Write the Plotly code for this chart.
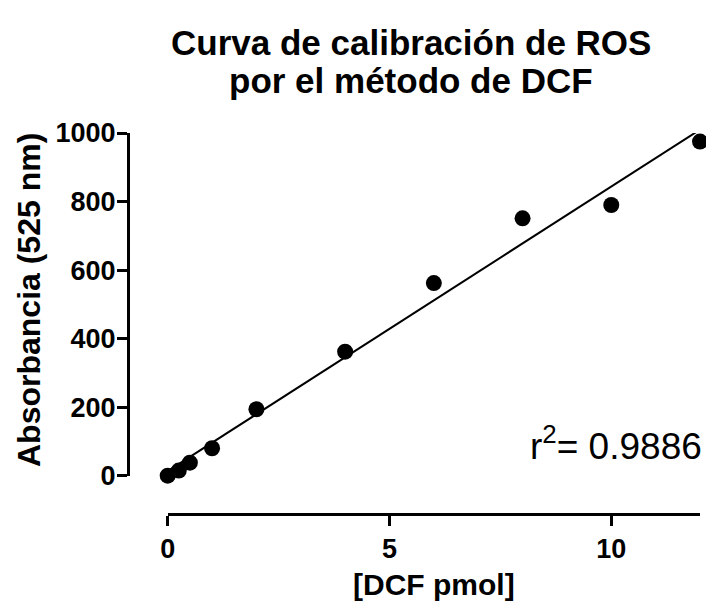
import numpy as np
import plotly.graph_objects as go

# Data
dcf_pmol = [0, 0.25, 0.5, 1, 2, 4, 6, 8, 10, 12]
absorbancia = [0, 15, 38, 80, 194, 362, 562, 751, 790, 975]
x_ticks = [0, 5, 10]
y_ticks = [0, 200, 400, 600, 800, 1000]
r2_label = "0.9886"
title_lines = ["Curva de calibración de ROS", "por el método de DCF"]

# Linear regression through the data
slope, intercept = np.polyfit(dcf_pmol, absorbancia, 1)
fit_x = [min(dcf_pmol), max(dcf_pmol)]
fit_y = [slope * v + intercept for v in fit_x]

W, H = 706, 603
ml, mr, mt, mb = 128, 6, 133, 89
pw = W - ml - mr
ph = H - mt - mb
x0_px = 167.7
y0_px = 475.7

font_family = "Liberation Sans, Arial, sans-serif"


def px_x(p):
    return (p - ml) / pw


def px_y(p):
    return (mt + ph - p) / ph


fig = go.Figure()
fig.add_trace(go.Scatter(
    x=fit_x, y=fit_y, mode="lines",
    line=dict(color="black", width=2),
    cliponaxis=False, showlegend=False, hoverinfo="skip",
))
fig.add_trace(go.Scatter(
    x=dcf_pmol, y=absorbancia, mode="markers",
    marker=dict(color="black", size=16, line=dict(width=0)),
    cliponaxis=False, showlegend=False,
))

axis_common = dict(
    showline=True, linecolor="black", linewidth=3,
    ticks="outside", ticklen=10, tickwidth=3, tickcolor="black",
    showgrid=False, zeroline=False,
    tickfont=dict(family=font_family, size=27, color="black", weight="bold"),
)

annotations = [
    dict(
        text=title_lines[0], xref="paper", yref="paper",
        x=px_x(411), y=px_y(43), xanchor="center", yanchor="middle",
        showarrow=False,
        font=dict(family=font_family, size=35, color="black", weight="bold"),
    ),
    dict(
        text=title_lines[1], xref="paper", yref="paper",
        x=px_x(411), y=px_y(81), xanchor="center", yanchor="middle",
        showarrow=False,
        font=dict(family=font_family, size=35, color="black", weight="bold"),
    ),
    dict(
        text="Absorbancia (525 nm)", textangle=-90,
        xref="paper", yref="paper",
        x=px_x(29), y=px_y(300),
        xanchor="center", yanchor="middle", showarrow=False,
        font=dict(family=font_family, size=32, color="black", weight="bold"),
    ),
    dict(
        text="[DCF pmol]",
        xref="paper", yref="paper",
        x=px_x(434), y=px_y(584),
        xanchor="center", yanchor="middle", showarrow=False,
        font=dict(family=font_family, size=30, color="black", weight="bold"),
    ),
    dict(
        text="r<sup>2</sup>= " + r2_label,
        xref="paper", yref="paper",
        x=px_x(704), y=px_y(443),
        xanchor="right", yanchor="middle", showarrow=False,
        font=dict(family=font_family, size=37, color="black"),
    ),
]

fig.update_layout(
    width=W, height=H,
    margin=dict(l=ml, r=mr, t=mt, b=mb, pad=0),
    paper_bgcolor="white", plot_bgcolor="white",
    xaxis=dict(
        range=[0, 12], domain=[(x0_px - ml) / pw, 1],
        anchor="free", position=0,
        tickvals=x_ticks, ticktext=[str(v) for v in x_ticks],
        **axis_common,
    ),
    yaxis=dict(
        range=[0, 1000], domain=[px_y(y0_px), 1],
        anchor="free", position=0,
        tickvals=y_ticks, ticktext=[str(v) for v in y_ticks],
        ticklabelstandoff=-4,
        **axis_common,
    ),
    annotations=annotations,
)

fig.write_html("out.html")
